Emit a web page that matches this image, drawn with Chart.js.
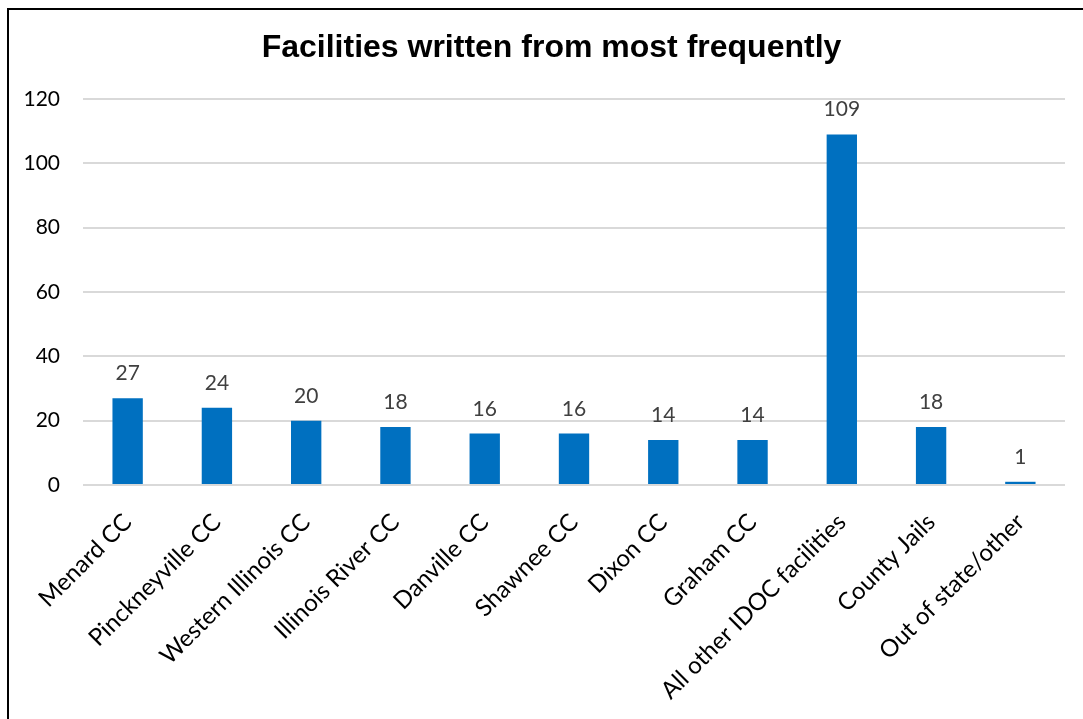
<!DOCTYPE html>
<html>
<head>
<meta charset="utf-8">
<script src="https://cdn.jsdelivr.net/npm/chart.js@4/dist/chart.umd.min.js"></script>
<style>
    html, body { margin: 0; padding: 0; background: #fff; overflow: hidden; }
    .frame {
        position: absolute; left: 7px; top: 8px; width: 1200px; height: 800px;
        border-left: 2px solid #000; border-top: 2px solid #000;
    }
    .wrap { position: absolute; left: 0; top: 0; width: 1083px; height: 719px; }
</style>
</head>
<body>
<div class="frame"></div>
<div class="wrap"><canvas id="chart" width="1083" height="719"></canvas></div>
<script>
    const chartTitle = 'Facilities written from most frequently';
    const facilities = [
        "Menard CC", "Pinckneyville CC", "Western Illinois CC", "Illinois River CC",
        "Danville CC", "Shawnee CC", "Dixon CC", "Graham CC",
        "All other IDOC facilities", "County Jails", "Out of state/other"
    ];
    const letterCounts = [27, 24, 20, 18, 16, 16, 14, 14, 109, 18, 1];
    const yTicks = [0, 20, 40, 60, 80, 100, 120];

    const labelFont = "Lato, 'Noto Sans', sans-serif";

    // numbers above each bar
    const barLabels = {
        id: 'barLabels',
        afterDatasetsDraw(chart) {
            const ctx = chart.ctx;
            const meta = chart.getDatasetMeta(0);
            ctx.save();
            ctx.fillStyle = '#404040';
            ctx.font = '21px ' + labelFont;
            ctx.textAlign = 'center';
            ctx.textBaseline = 'alphabetic';
            meta.data.forEach((bar, i) => {
                ctx.fillText(letterCounts[i], bar.x, bar.y - 18);
            });
            ctx.restore();
        }
    };

    // title centred over the whole chart object (which runs past the right edge)
    const titleText = {
        id: 'titleText',
        afterDraw(chart) {
            const ctx = chart.ctx;
            ctx.save();
            ctx.fillStyle = '#000';
            ctx.font = "bold 32px 'Liberation Sans', Arial, sans-serif";
            ctx.textAlign = 'center';
            ctx.textBaseline = 'middle';
            ctx.fillText(chartTitle, chart.width / 2 + 10, 48);
            ctx.restore();
        }
    };

    new Chart(document.getElementById('chart'), {
        type: 'bar',
        data: {
            labels: facilities,
            datasets: [{
                data: letterCounts,
                backgroundColor: '#0070C0',
                categoryPercentage: 1,
                barPercentage: 0.34
            }]
        },
        options: {
            responsive: false,
            animation: false,
            devicePixelRatio: 1,
            layout: { padding: { left: 20, right: 18, top: 99, bottom: 0 } },
            plugins: {
                legend: { display: false },
                tooltip: { enabled: false },
                title: { display: false }
            },
            scales: {
                x: {
                    grid: { display: false },
                    border: { display: false },
                    ticks: {
                        color: '#000',
                        font: { family: labelFont, size: 24 },
                        maxRotation: 45,
                        minRotation: 45,
                        autoSkip: false,
                        padding: 15
                    },
                    afterFit(scale) { scale.height = 234; }
                },
                y: {
                    min: 0,
                    max: 120,
                    afterBuildTicks(scale) { scale.ticks = yTicks.map(v => ({ value: v })); },
                    grid: { color: '#d9d9d9', lineWidth: 2, drawTicks: false },
                    border: { display: false },
                    ticks: {
                        color: '#000',
                        font: { family: labelFont, size: 21 },
                        padding: 23
                    },
                    afterFit(scale) { scale.width = 63; }
                }
            }
        },
        plugins: [barLabels, titleText]
    });
</script>
</body>
</html>
